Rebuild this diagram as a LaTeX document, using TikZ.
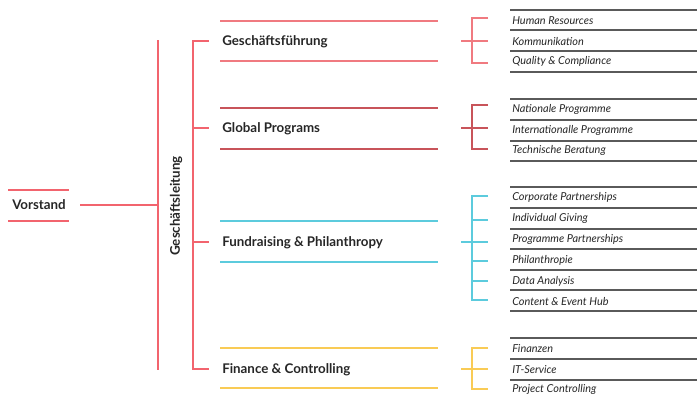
\documentclass[tikz,border=0pt]{standalone}
\usepackage{fontspec}
\setmainfont{Lato}
\definecolor{vred}{HTML}{F2646E}
\definecolor{gfred}{HTML}{F07A80}
\definecolor{gpred}{HTML}{C8545A}
\definecolor{frcyan}{HTML}{5CCBDD}
\definecolor{fcyell}{HTML}{F9CB55}
\definecolor{itemgray}{HTML}{5A5A5A}

\begin{document}
\begin{tikzpicture}[x=0.75pt,y=-0.75pt,
    dept/.style={anchor=west,inner sep=0pt,font=\bfseries\fontsize{10}{12}\selectfont,text=black!85},
    item/.style={anchor=west,inner sep=0pt,font=\itshape\fontsize{8.2}{10}\selectfont,text=black!85},
    rule/.style={line width=0.8pt},
    itemrule/.style={line width=0.9pt,draw=itemgray}]
  \useasboundingbox (0,0) rectangle (697,397);

  % Vorstand
  \node[dept] (vorstand) at (12,205) {Vorstand};
  \draw[rule,vred] (8,190) -- (69,190) (8,221) -- (69,221);
  \coordinate (gltop) at (158,40);
  \coordinate (glbot) at (158,370);
  \coordinate (glmid) at (vorstand.east -| gltop);
  \draw[rule,vred] (vorstand.east) ++(14,0) -- (glmid);
  \draw[rule,vred] (gltop) -- (glbot);
  \node[font=\bfseries\fontsize{10}{12}\selectfont,text=black!85,rotate=90] (gl) at (176,206) {Geschäftsleitung};

  % departments
  \node[dept] (gf) at (222,41.5) {Geschäftsführung};
  \node[dept] (gp) at (222,128.5) {Global Programs};
  \node[dept] (fr) at (222,242.5) {Fundraising \& Philanthropy};
  \node[dept] (fc) at (222,369.5) {Finance \& Controlling};
  \draw[rule,vred] (209,41) -| (193,369) -- (209,369);
  \draw[rule,vred] (193,128) -- (209,128) (193,242) -- (209,242);
  \draw[rule,gfred] (220,21) -- (438,21) (220,61) -- (438,61);
  \draw[rule,gpred] (220,108) -- (438,108) (220,149) -- (438,149);
  \draw[rule,frcyan] (220,221) -- (438,221) (220,262) -- (438,262);
  \draw[rule,fcyell] (220,348) -- (438,348) (220,388) -- (438,388);

  % Geschaeftsfuehrung
  \node[item] (hr) at (512,20.5) {Human Resources};
  \node[item] (kom) at (512,41.5) {Kommunikation};
  \node[item] (qc) at (512,61.5) {Quality \& Compliance};
  \foreach \y in {10,30,51,72} \draw[itemrule] (510,\y) -- (697,\y);
  \draw[rule,gfred] (488,18) -| (472,63) -- (488,63) (461,41) -- (488,41);

  % Global Programs
  \node[item] (nat) at (512,109.5) {Nationale Programme};
  \node[item] (int) at (512,130.5) {Internationalle Programme};
  \node[item] (tb) at (512,150.5) {Technische Beratung};
  \foreach \y in {99,120,141,161} \draw[itemrule] (510,\y) -- (697,\y);
  \draw[rule,gpred] (488,105) -| (472,149) -- (488,149) (461,128) -- (488,128);

  % Fundraising
  \node[item] (cp) at (512,197.5) {Corporate Partnerships};
  \node[item] (ig) at (512,218.5) {Individual Giving};
  \node[item] (pp) at (512,239.5) {Programme Partnerships};
  \node[item] (ph) at (512,260.5) {Philanthropie};
  \node[item] (da) at (512,281.5) {Data Analysis};
  \node[item] (ce) at (512,301.5) {Content \& Event Hub};
  \foreach \y in {187,208,229,249,270,290,311} \draw[itemrule] (510,\y) -- (697,\y);
  \draw[rule,frcyan] (488,196) -| (472,300) -- (488,300) (461,242) -- (488,242);
  \foreach \y in {220,261,281} \draw[rule,frcyan] (472,\y) -- (488,\y);

  % Finance
  \node[item] (fin) at (512,348.5) {Finanzen};
  \node[item] (its) at (512,369.5) {IT-Service};
  \node[item] (pc) at (512,389.5) {Project Controlling};
  \foreach \y in {338,359,380} \draw[itemrule] (510,\y) -- (697,\y);
  \draw[rule,fcyell] (488,348) -| (472,389) -- (488,389) (461,369) -- (488,369);
\end{tikzpicture}
\end{document}
